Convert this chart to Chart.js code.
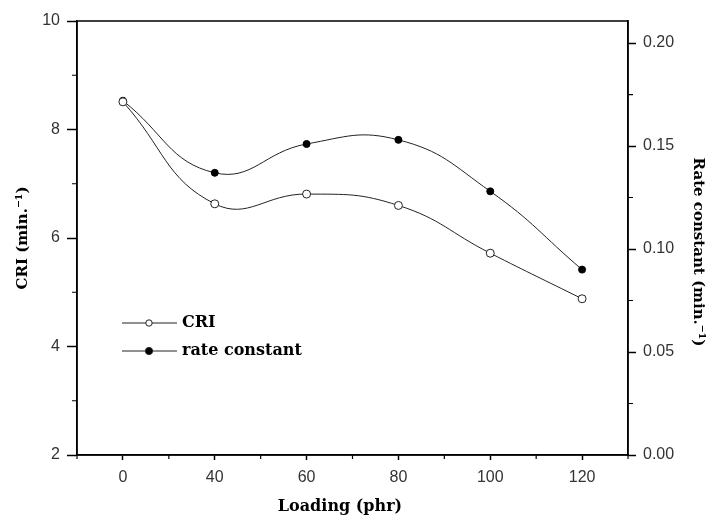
<!DOCTYPE html>
<html>
<head>
<meta charset="utf-8">
<script src="https://cdn.jsdelivr.net/npm/chart.js@4"></script>
<style>
  html, body { margin: 0; padding: 0; background: #fff; }
  #wrap { width: 713px; height: 515px; }
</style>
</head>
<body>
<div id="wrap"><canvas id="chart" width="713" height="515"></canvas></div>
<script>
const loading = ['0', '40', '60', '80', '100', '120'];
const cri = [8.51, 6.63, 6.81, 6.60, 5.72, 4.88];
const rateConstant = [0.172, 0.137, 0.151, 0.153, 0.128, 0.090];
const criTicks = [2, 4, 6, 8, 10];
const criMinor = [3, 5, 7, 9];
const rateTicks = [0, 0.05, 0.10, 0.15, 0.20];
const rateMinor = [0.025, 0.075, 0.125, 0.175];

const serif = '"DejaVu Serif", "Liberation Serif", serif';
const sans = '"Liberation Sans", Arial, sans-serif';

// frame, minor ticks, axis titles that sit off-centre, and the in-plot legend
const extras = {
  id: 'extras',
  afterDraw(chart) {
    const { ctx, chartArea: a, scales } = chart;
    ctx.save();
    ctx.strokeStyle = '#000';
    ctx.lineWidth = 1.5;
    ctx.strokeRect(a.left, a.top, a.right - a.left, a.bottom - a.top);

    ctx.lineWidth = 1.2;
    ctx.beginPath();
    criMinor.forEach(v => {
      const y = scales.y.getPixelForValue(v);
      ctx.moveTo(a.left - 5, y); ctx.lineTo(a.left, y);
    });
    rateMinor.forEach(v => {
      const y = scales.y2.getPixelForValue(v);
      ctx.moveTo(a.right, y); ctx.lineTo(a.right + 5, y);
    });
    for (let i = -0.5; i < loading.length; i++) {
      const x = scales.x.getPixelForValue(i);
      ctx.moveTo(x, a.bottom); ctx.lineTo(x, a.bottom + 4);
    }
    ctx.stroke();

    ctx.fillStyle = '#000';
    ctx.textAlign = 'center';
    ctx.textBaseline = 'middle';
    ctx.font = 'bold 16px ' + serif;
    ctx.fillText('Loading (phr)', a.left + 263, a.bottom + 52);

    ctx.save();
    ctx.font = 'bold 15px ' + serif;
    ctx.translate(a.right + 70, a.top + 231);
    ctx.rotate(Math.PI / 2);
    ctx.fillText('Rate constant (min.⁻¹)', 0, 0);
    ctx.restore();

    // legend
    const lx = a.left + 45, rows = [a.top + 302, a.top + 330];
    ctx.lineWidth = 1;
    ctx.strokeStyle = '#222';
    ctx.font = 'bold 16px ' + serif;
    ctx.textAlign = 'left';
    rows.forEach((y, i) => {
      ctx.beginPath();
      ctx.moveTo(lx, y); ctx.lineTo(lx + 55, y);
      ctx.stroke();
      ctx.beginPath();
      ctx.arc(lx + 27, y, i === 0 ? 3.2 : 3.6, 0, Math.PI * 2);
      ctx.fillStyle = i === 0 ? '#fff' : '#000';
      ctx.fill();
      ctx.stroke();
      ctx.fillStyle = '#000';
      ctx.fillText(i === 0 ? 'CRI' : 'rate constant', lx + 60, y);
    });
    ctx.restore();
  }
};

new Chart(document.getElementById('chart'), {
  type: 'line',
  data: {
    labels: loading,
    datasets: [{
      label: 'CRI',
      data: cri,
      yAxisID: 'y',
      borderColor: '#222',
      borderWidth: 1,
      tension: 0.45,
      pointStyle: 'circle',
      pointRadius: 4,
      pointBackgroundColor: '#fff',
      pointBorderColor: '#222',
      pointBorderWidth: 1
    }, {
      label: 'rate constant',
      data: rateConstant,
      yAxisID: 'y2',
      borderColor: '#222',
      borderWidth: 1,
      tension: 0.45,
      pointStyle: 'circle',
      pointRadius: 3.5,
      pointBackgroundColor: '#000',
      pointBorderColor: '#000',
      pointBorderWidth: 1
    }]
  },
  options: {
    responsive: false,
    animation: false,
    layout: { padding: { top: 21, left: 0, right: 0, bottom: 0 } },
    plugins: {
      legend: { display: false },
      tooltip: { enabled: false }
    },
    scales: {
      x: {
        type: 'category',
        offset: true,
        afterFit: s => { s.height = 60; },
        grid: { offset: false, drawOnChartArea: false, tickLength: 5, tickColor: '#000', tickWidth: 1.5 },
        border: { color: '#000', width: 1.5 },
        ticks: { color: '#333', font: { family: sans, size: 16 }, padding: 8, maxRotation: 0 }
      },
      y: {
        position: 'left',
        min: 2, max: 10,
        afterBuildTicks: s => { s.ticks = criTicks.map(v => ({ value: v })); },
        afterFit: s => { s.width = 77; },
        grid: { drawOnChartArea: false, tickLength: 10, tickColor: '#000', tickWidth: 1.5 },
        border: { color: '#000', width: 1.5 },
        ticks: { color: '#333', font: { family: sans, size: 16 }, padding: 7 },
        title: {
          display: true, text: 'CRI (min.⁻¹)', color: '#000',
          font: { family: serif, size: 15, weight: 'bold' }, padding: { top: 14, bottom: 0 }
        }
      },
      y2: {
        position: 'right',
        min: 0, max: 0.2107,
        afterBuildTicks: s => { s.ticks = rateTicks.map(v => ({ value: v })); },
        afterFit: s => { s.width = 85; },
        grid: { drawOnChartArea: false, tickLength: 8, tickColor: '#000', tickWidth: 1.5 },
        border: { color: '#000', width: 1.5 },
        ticks: { color: '#333', font: { family: sans, size: 16 }, padding: 7, callback: v => v.toFixed(2) }
      }
    }
  },
  plugins: [extras]
});
</script>
</body>
</html>
